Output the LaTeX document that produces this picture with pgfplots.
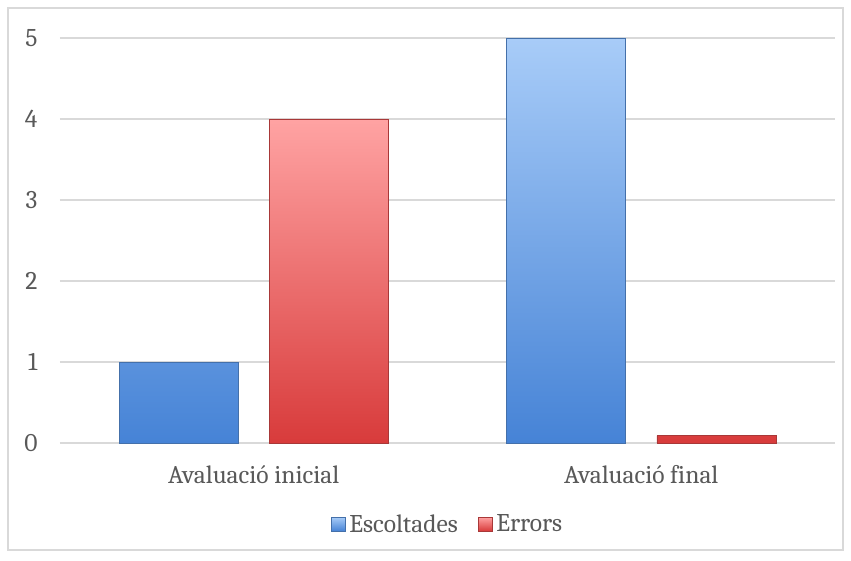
\documentclass[border=0pt]{standalone}
\usepackage{pgfplots}
\pgfplotsset{compat=1.18}
\usepackage{fontspec}
\setmainfont{Caladea}
\definecolor{txt}{HTML}{595959}
\definecolor{gridc}{HTML}{D9D9D9}
\definecolor{bTop}{HTML}{A8CCF8}
\definecolor{bBot}{HTML}{4683D6}
\definecolor{bEdge}{HTML}{4470AA}
\definecolor{rTop}{HTML}{FFA3A3}
\definecolor{rBot}{HTML}{D83B3B}
\definecolor{rEdge}{HTML}{A83838}
\begin{document}
\begin{tikzpicture}[x=1pt,y=1pt]
\path[use as bounding box] (-60,-117) rectangle (791,443);
\draw[gridc, line width=1.2pt] (-52,-107) rectangle (783,435);
\begin{axis}[
  at={(0,0)}, anchor=south west,
  width=775pt, height=405pt, scale only axis,
  xmin=-0.5, xmax=1.5, ymin=0, ymax=5,
  xtick={0,1}, xticklabels={Avaluació inicial, Avaluació final},
  ytick={0,1,2,3,4,5},
  major tick length=0pt,
  axis line style={draw=none},
  xmajorgrids=false, ymajorgrids=true,
  grid style={gridc, line width=1.2pt},
  tick label style={font=\fontsize{25.5}{30}\selectfont, text=txt},
  /pgf/number format/assume math mode=true,
  yticklabel style={xshift=-19pt},
  xticklabel style={yshift=-19pt},
  legend style={at={(rel axis cs:0.5,-0.2)}, anchor=center, draw=none, fill=none,
    legend columns=2, font=\fontsize{25.5}{30}\selectfont, text=txt,
    /tikz/every even column/.append style={column sep=18pt},
    /tikz/every odd column/.append style={column sep=2pt}},
  legend cell align=left,
  legend image code/.code={\draw[#1, line width=0.5pt] (0pt,-7pt) rectangle (14pt,7pt);},
]
\addplot[ybar, bar width=0.307, bar shift=-0.194, top color=bTop, bottom color=bBot, draw=bEdge, line width=0.8pt]
  coordinates {(0,1) (1,5)};
\addlegendentry{Escoltades}
\addplot[ybar, bar width=0.307, bar shift=0.194, top color=rTop, bottom color=rBot, draw=rEdge, line width=0.8pt]
  coordinates {(0,4) (1,0.09)};
\addlegendentry{Errors}
\end{axis}
\end{tikzpicture}
\end{document}
